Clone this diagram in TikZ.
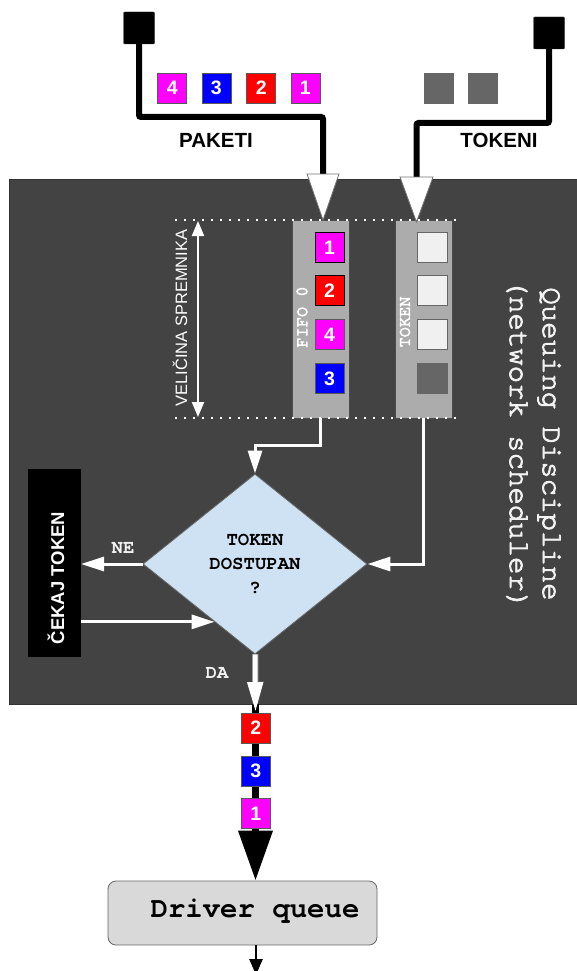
\documentclass[tikz,border=0pt]{standalone}
\usepackage{fontspec}
\setmainfont{Liberation Sans}
\newfontfamily\curfont{TeX Gyre Cursor}
\newfontfamily\curmed[FakeBold=3]{TeX Gyre Cursor}
\newfontfamily\curlab[FakeBold=4.5]{TeX Gyre Cursor}
\usetikzlibrary{arrows.meta,shapes.geometric,calc}
\definecolor{panelc}{HTML}{434343}
\definecolor{magc}{HTML}{FF00FF}
\definecolor{bluec}{HTML}{0000FF}
\definecolor{redc}{HTML}{FF0000}
\definecolor{tokdark}{HTML}{666666}
\definecolor{toklight}{HTML}{F0F0F0}
\definecolor{colc}{HTML}{ACACAC}
\definecolor{diac}{HTML}{CFE2F3}
\definecolor{dqc}{HTML}{D9D9D9}
\definecolor{lbl}{HTML}{F2F2F2}
\begin{document}
\begin{tikzpicture}[x=1pt,y=-1pt,
  pkt/.style={draw=black!65, line width=0.7pt, minimum width=29pt, minimum height=30pt, inner sep=0pt, text=white, font=\bfseries\fontsize{19.5}{19.5}\selectfont},
  tok/.style={draw=black!60, line width=0.8pt, minimum width=30pt, minimum height=30pt, inner sep=0pt},
  src/.style={fill=black, draw=black!80, minimum width=31pt, minimum height=32pt, inner sep=0pt, rounded corners=1pt},
  wire/.style={line width=6pt, black, rounded corners=2pt},
  inarrow/.style={fill=white, draw=black!55, line width=0.8pt},
  wline/.style={white, line width=3pt, -{Triangle[length=23pt,width=14pt]}},
  col/.style={fill=colc, draw=black!70, line width=0.8pt, minimum width=57pt, minimum height=198pt, inner sep=0pt},
  biglbl/.style={font=\bfseries\fontsize{20.5}{24}\selectfont},
  collbl/.style={rotate=90, text=white, font=\curlab\fontsize{17}{17}\selectfont, inner sep=0pt},
  dotline/.style={white, line width=2.4pt, dash pattern=on 2.4pt off 6.6pt},
  curlbl/.style={text=lbl, font=\curfont\bfseries\fontsize{19}{19}\selectfont, inner sep=0pt}
]
\useasboundingbox (0,0) rectangle (577,971);

% panel
\path[fill=panelc, draw=black!80, line width=0.8pt] (9,179) rectangle (590,704);

% sources and wires
\node[src] (srcp) at (139,28) {};
\node[src] (srct) at (549,33) {};
\coordinate (inp) at (323,174);
\coordinate (intk) at (416.5,177);
\coordinate (bendp) at (323,117);
\coordinate (bendt) at (416.5,123);
\draw[wire] (srcp.south) |- (bendp) -- (inp);
\draw[wire] (srct.south) |- (bendt) -- (intk);

% packets on top
\node[pkt, fill=magc] (p4) at (172.3,88) {4};
\node[pkt, fill=bluec] (p3) at (216.4,88) {3};
\node[pkt, fill=redc] (p2) at (261.3,88) {2};
\node[pkt, fill=magc] (p1) at (305.4,88) {1};
\node[tok, fill=tokdark, minimum width=29pt] (t1) at (438.7,88) {};
\node[tok, fill=tokdark, minimum width=29pt] (t2) at (482.5,88) {};

\node[biglbl] (paketi) at (216,140) {PAKETI};
\node[biglbl] (tokeni) at (499,140) {TOKENI};

% columns
\node[col] (fifo) at (320.5,319) {};
\node[col] (tcol) at (423.5,319) {};
\node[collbl] (fifolbl) at (302,317) {FIFO 0};
\node[collbl] (toklbl) at (405,322) {TOKEN};

\node[pkt, fill=magc, draw=black] (f1) at (329.5,247.5) {1};
\node[pkt, fill=redc, draw=black] (f2) at (329.5,290.5) {2};
\node[pkt, fill=magc] (f4) at (329.5,334.5) {4};
\node[pkt, fill=bluec] (f3) at (329.5,378.5) {3};
\node[tok, fill=toklight] (k1) at (432.5,247.5) {};
\node[tok, fill=toklight] (k2) at (432.5,290.5) {};
\node[tok, fill=toklight] (k3) at (432.5,334.5) {};
\node[tok, fill=tokdark] (k4) at (432.5,378.5) {};

% dotted buffer bounds
\draw[dotline] (175,220) -- (457,220);
\draw[dotline] (175,418) -- (457,418);

% input arrowheads
\path[inarrow] (307,174) -- (339,174) -- (323,220) -- cycle;
\path[inarrow] (400,177) -- (433,177) -- (416.5,222) -- cycle;

% buffer size
\coordinate (vtop) at (198,221);
\coordinate (vbot) at (198,417);
\draw[white, line width=2pt, {Triangle[length=15pt,width=12pt]}-{Triangle[length=15pt,width=12pt]}] (vtop) -- (vbot);
\node[rotate=90, text=white, font=\fontsize{16.5}{16.5}\selectfont, inner sep=0pt] (vel) at (180,318) {VELIČINA SPREMNIKA};

% decision
\node[diamond, fill=diac, draw=black!60, line width=0.8pt, minimum width=224pt, minimum height=180pt, inner sep=0pt, aspect=1.244, align=center, font=\curfont\bfseries\fontsize{19}{24}\selectfont] (dec) at (255,564) {TOKEN\\DOSTUPAN\\?};

\draw[wline] (fifo.south) -- ++(0,27) -| (dec.north);
\draw[wline] (tcol.south) |- (dec.east);

% wait box
\node[fill=black, minimum width=53pt, minimum height=188pt, inner sep=0pt] (cekaj) at (54.3,563) {};
\node[rotate=90, text=white, font=\bfseries\fontsize{18.5}{18.5}\selectfont, inner sep=0pt] (cekajt) at (56,578) {ČEKAJ TOKEN};

\draw[wline] (dec.west) -- (dec.west -| cekaj.east);
\path (dec.west) -- (dec.south) coordinate[pos=0.64] (dsw);
\draw[wline] (cekaj.east |- dsw) -- (dsw);

\node[curlbl] (ne) at (123,548) {NE};
\node[curlbl] (da) at (217,673) {DA};

% output path
\node[draw=black!60, fill=dqc, rounded corners=8pt, minimum width=269pt, minimum height=64pt, line width=0.8pt] (dq) at (242.5,913) {};
\node[font=\curfont\bfseries\fontsize{29}{29}\selectfont, inner sep=0pt] (dqt) at (255,911) {Driver queue};

\coordinate (blackstart) at (255.5,704);
\coordinate (daend) at (255.5,712);
\draw[line width=7pt, -{Triangle[length=50pt,width=33pt]}] (blackstart) -- ([xshift=13pt]dq.north);
\draw[black!60, line width=7pt] (dec.south) -- ++(0,27);
\draw[white, line width=5pt, -{Triangle[length=30pt,width=15pt]}] (dec.south) -- (daend);

\node[pkt, fill=redc] (o2) at (255.7,728) {2};
\node[pkt, fill=bluec] (o3) at (255.7,771) {3};
\node[pkt, fill=magc] (o1) at (255.7,813.5) {1};

\coordinate (outend) at (256,975);
\draw[line width=2.5pt, -{Triangle[length=16pt,width=13pt]}] ([xshift=13.5pt]dq.south) -- (outend);

% title
\node[rotate=-90, text=lbl, align=center, font=\curmed\fontsize{29}{33}\selectfont, inner sep=0pt] (qd) at (533.5,444) {Queuing Discipline\\(network scheduler)};
\end{tikzpicture}
\end{document}
